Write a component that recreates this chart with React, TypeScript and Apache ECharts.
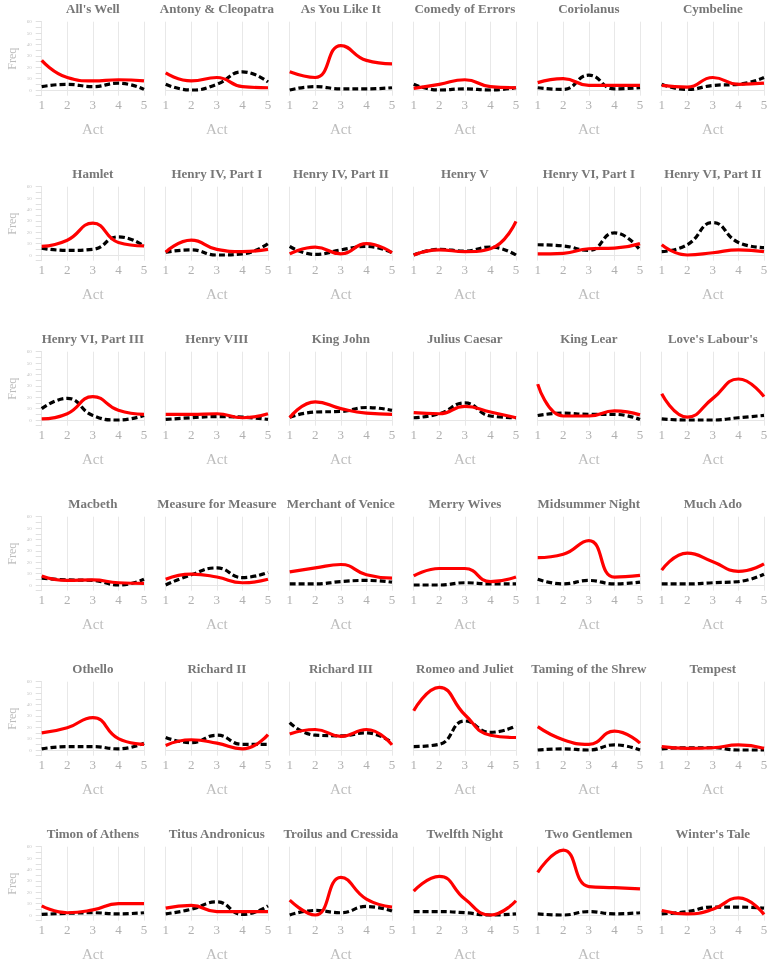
import React, { useEffect, useRef } from "react";
import * as echarts from "echarts";

const plays = [
  "All's Well", "Antony & Cleopatra", "As You Like It", "Comedy of Errors", "Coriolanus", "Cymbeline",
  "Hamlet", "Henry IV, Part I", "Henry IV, Part II", "Henry V", "Henry VI, Part I", "Henry VI, Part II",
  "Henry VI, Part III", "Henry VIII", "King John", "Julius Caesar", "King Lear", "Love's Labour's",
  "Macbeth", "Measure for Measure", "Merchant of Venice", "Merry Wives", "Midsummer Night", "Much Ado",
  "Othello", "Richard II", "Richard III", "Romeo and Juliet", "Taming of the Shrew", "Tempest",
  "Timon of Athens", "Titus Andronicus", "Troilus and Cressida", "Twelfth Night", "Two Gentlemen", "Winter's Tale",
];

const acts = [1, 2, 3, 4, 5];

// red solid series, per play, acts 1-5
const solidFreq = [
  [26, 11, 8, 9, 8], [15, 8, 11, 3, 2], [16, 11, 39, 26, 23], [1.5, 5, 9, 3, 2], [6.5, 10, 4, 4, 4], [4, 2.5, 11, 5, 6],
  [7.5, 13, 28, 11, 8], [2.5, 13, 5, 3, 5], [1, 7, 1, 10, 2], [0, 4.5, 3, 5.5, 29.5], [1, 1.5, 5.5, 6, 10], [9, 0, 2, 4.5, 3],
  [1, 5.5, 20.5, 8.5, 5], [5, 5, 5.5, 2, 5.5], [2, 16, 10, 6, 5], [6.5, 5.5, 12, 7, 2], [31.5, 3.5, 3.5, 8, 4.5], [23, 2.5, 19, 36, 20.5],
  [8, 4, 4.5, 2, 1.5], [5, 9.5, 7, 2, 5], [11.5, 15, 18, 9, 6], [8, 14.5, 14.5, 3, 7], [24, 27, 39, 7, 8.5], [13, 28, 20.5, 12, 18.5],
  [15, 19.5, 28.5, 10, 5], [4, 9, 6, 1, 13.5], [14, 18, 12, 18, 4.5], [34.5, 55, 31, 13, 11], [20.5, 9, 5, 16.5, 6], [3, 1.5, 2, 4.5, 1.5],
  [8, 2, 4.5, 10, 10], [6, 8.5, 3, 3, 3], [13, 0, 33, 14, 7], [21, 34, 14, 0, 12.5], [37.5, 57, 25, 24, 23], [4, 1, 5, 15, 0.5],
];

// black dashed series, per play, acts 1-5
const dashedFreq = [
  [3, 5, 3, 6, 0.5], [5, 0, 5, 16, 7], [0, 3, 1, 1, 2], [5, 0, 1, 0, 2], [2, 0.5, 13, 1, 2], [5, 0.5, 4, 5, 11],
  [6, 4, 5, 16, 8], [2.5, 4.5, 0, 1, 10], [7.5, 0.5, 4.5, 7.5, 2], [0, 5, 3.5, 7, 0], [9, 8, 4, 19.5, 4.5], [3, 9, 28.5, 11, 6.5],
  [10, 19, 4, 0, 4], [0.5, 2, 3, 2.5, 0.5], [2.5, 7, 7.5, 11, 8.5], [2, 5.5, 15, 3.5, 2], [4, 6, 5, 5, 0.5], [1, 0, 0, 2, 4],
  [6, 4.5, 4, 0, 5], [0, 9, 15, 6.5, 11], [1, 1, 3, 4, 2.5], [0, 0, 2, 1, 1], [5, 1, 4, 1, 2.5], [1, 1, 2, 3, 9.5],
  [1, 3, 3, 1, 6], [11, 6.5, 13, 5, 5], [24, 13, 12.5, 15, 6.5], [3, 5, 25.5, 15.5, 21], [0, 1, 0, 4.5, 0], [1, 2, 2, 0, 0],
  [0.5, 1.5, 2, 1, 2], [1, 5, 11.5, 0.5, 8], [0, 4, 2, 7.5, 3.5], [3, 3, 2, 0, 1], [1, 0, 3, 1, 2], [1, 3, 7, 7, 6],
];

const yTickLabels = [0, 10, 20, 30, 40, 50, 60];

const COLS = 6;
const COL_PITCH = 124;
const ROW_PITCH = 165;
const PLOT_LEFT = 41.7;
const PLOT_W = 102.3;
const PLOT_TOP = 21.7;
const PLOT_H = 74;
const SERIF = "Liberation Serif";

export default function App() {
  const ref = useRef<HTMLDivElement>(null);

  useEffect(() => {
    if (!ref.current) return;
    const chart = echarts.init(ref.current, undefined, { renderer: "svg" });

    const grids: any[] = [];
    const xAxes: any[] = [];
    const yAxes: any[] = [];
    const series: any[] = [];
    const graphics: any[] = [];

    plays.forEach((name, i) => {
      const r = Math.floor(i / COLS);
      const c = i % COLS;
      const left = PLOT_LEFT + c * COL_PITCH;
      const top = PLOT_TOP + r * ROW_PITCH;
      const first = c === 0;
      grids.push({ left, top, width: PLOT_W, height: PLOT_H, containLabel: false, outerBoundsMode: "none" });
      xAxes.push({
        type: "value",
        gridIndex: i,
        min: 1,
        max: 5,
        interval: 1,
        position: "bottom",
        axisLine: { show: false, onZero: false },
        axisTick: { show: false },
        axisLabel: { show: true, margin: 2, color: "#b0b0b0", fontSize: 13, fontFamily: SERIF },
        splitLine: { show: true, lineStyle: { color: "#e8e8e8", width: 1 } },
        name: "Act",
        nameLocation: "middle",
        nameGap: 26,
        nameTextStyle: { color: "#bdbdbd", fontSize: 15, fontFamily: SERIF },
      });
      yAxes.push({
        type: "value",
        gridIndex: i,
        min: -5,
        max: 60,
        interval: 5,
        axisLine: { show: first, lineStyle: { color: "#e6e6e6", width: 1 } },
        axisTick: { show: first, length: 6, lineStyle: { color: "#e0e0e0" } },
        axisLabel: {
          show: first,
          margin: 10,
          color: "#c4c4c4",
          fontSize: 5,
          fontFamily: SERIF,
          formatter: (v: number) => (yTickLabels.includes(v) ? String(v) : ""),
        },
        splitLine: { show: false },
        name: first ? "Freq" : "",
        nameLocation: "middle",
        nameRotate: 90,
        nameGap: 24,
        nameTextStyle: { color: "#bdbdbd", fontSize: 12, fontFamily: SERIF },
      });
      series.push({
        type: "line",
        xAxisIndex: i,
        yAxisIndex: i,
        data: acts.map((a, k) => [a, dashedFreq[i][k]]),
        smooth: 0.5,
        symbol: "none",
        lineStyle: { color: "#000000", width: 3.2, type: [6, 3] },
        silent: true,
        z: 2,
        markLine: {
          silent: true,
          symbol: "none",
          label: { show: false },
          lineStyle: { color: "#e6e6e6", width: 1, type: "solid" },
          data: [{ yAxis: 0 }],
          z: 1,
        },
      });
      series.push({
        type: "line",
        xAxisIndex: i,
        yAxisIndex: i,
        data: acts.map((a, k) => [a, solidFreq[i][k]]),
        smooth: 0.5,
        symbol: "none",
        lineStyle: { color: "#ff0000", width: 3.2 },
        silent: true,
        z: 3,
      });
      graphics.push({
        type: "text",
        x: left + PLOT_W / 2,
        y: 8.5 + r * ROW_PITCH,
        style: {
          text: name,
          align: "center",
          verticalAlign: "middle",
          fill: "#777777",
          fontSize: 13,
          fontWeight: "bold",
          fontFamily: SERIF,
        },
      });
    });

    chart.setOption({
      animation: false,
      grid: grids,
      xAxis: xAxes,
      yAxis: yAxes,
      series,
      graphic: graphics,
    });

    return () => chart.dispose();
  }, []);

  return (
    <div
      ref={ref}
      style={{ position: "absolute", left: 0, top: 0, width: 779, height: 965, willChange: "transform" }}
    />
  );
}
